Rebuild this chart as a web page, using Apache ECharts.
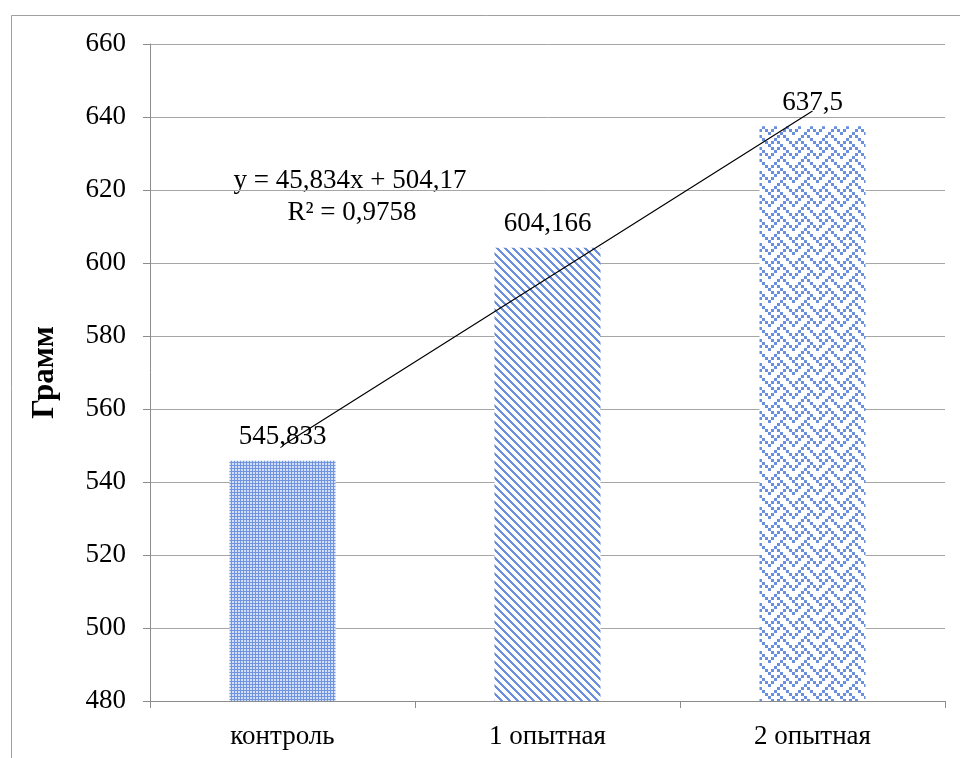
<!DOCTYPE html>
<html>
<head>
<meta charset="utf-8">
<script src="https://cdn.jsdelivr.net/npm/echarts@6/dist/echarts.min.js"></script>
<style>
  html, body { margin: 0; padding: 0; background: #fff; }
  #chart { width: 960px; height: 758px; }
</style>
</head>
<body>
<div id="chart"></div>
<script>
// Groups and mean weight (g)
const categories = ['контроль', '1 опытная', '2 опытная'];
const weights = [545.833, 604.166, 637.5];
// Linear trend evaluated at each group: y = 45,834x + 504,17
const trendValues = [550.00, 595.84, 641.67];
const trendEquation = 'y = 45,834x + 504,17';
const trendR2 = 'R² = 0,9758';
const yTicks = { min: 480, max: 660, step: 20 };

const BLUE = '#6a8fdc';
const FONT = '"Liberation Serif", "Times New Roman", serif';
const FS = 27;

// Build a repeating fill tile from a bitmap of rows (1 = foreground pixel)
function makeTile(rows, scale, fg, bg) {
  const h = rows.length, w = rows[0].length;
  const c = document.createElement('canvas');
  c.width = w * scale; c.height = h * scale;
  const ctx = c.getContext('2d');
  ctx.fillStyle = bg; ctx.fillRect(0, 0, c.width, c.height);
  ctx.fillStyle = fg;
  for (let y = 0; y < h; y++)
    for (let x = 0; x < w; x++)
      if (rows[y][x] === '1') ctx.fillRect(x * scale, y * scale, scale, scale);
  return c;
}

// fine grid of light squares
const dotTile = makeTile(['111', '100', '100'], 1, '#7094de', '#d3dff6');

// wide downward diagonal stripes
const stripeRows = [];
for (let y = 0; y < 8; y++) {
  let r = '';
  for (let x = 0; x < 8; x++) r += (((x - y) % 8 + 8) % 8) < 3 ? '1' : '0';
  stripeRows.push(r);
}
const stripeTile = makeTile(stripeRows, 1, BLUE, '#ffffff');

// weave
const weaveRows = [
  '10001000',
  '01010100',
  '00100010',
  '01000101',
  '10001000',
  '00010100',
  '00100010',
  '01010001'
];
const weaveTile = makeTile(weaveRows, 3, BLUE, '#ffffff');

const tiles = [dotTile, stripeTile, weaveTile];

const chart = echarts.init(document.getElementById('chart'), null, { renderer: 'canvas' });

const fmt = v => String(v).replace('.', ',');

chart.setOption({
  animation: false,
  backgroundColor: '#ffffff',
  grid: { left: 150, right: 15, top: 44, bottom: 57 },
  xAxis: {
    type: 'category',
    data: categories,
    axisLine: { lineStyle: { color: '#8c8c8c', width: 1 } },
    axisTick: { show: true, length: 7, lineStyle: { color: '#8c8c8c' } },
    axisLabel: { color: '#000', fontFamily: FONT, fontSize: FS, margin: 22 }
  },
  yAxis: {
    type: 'value',
    min: yTicks.min,
    max: yTicks.max,
    interval: yTicks.step,
    name: 'Грамм',
    nameLocation: 'middle',
    nameGap: 90,
    nameTextStyle: { color: '#000', fontFamily: FONT, fontSize: 31, fontWeight: 'bold' },
    axisLine: { show: true, lineStyle: { color: '#8c8c8c', width: 1 } },
    axisTick: { show: true, length: 7, lineStyle: { color: '#8c8c8c' } },
    axisLabel: { color: '#000', fontFamily: FONT, fontSize: FS, margin: 24 },
    splitLine: { lineStyle: { color: '#a6a6a6', width: 1 } }
  },
  series: [
    {
      type: 'bar',
      barWidth: '40%',
      data: weights.map((v, i) => ({
        value: v,
        itemStyle: { color: { image: tiles[i], repeat: 'repeat' } }
      })),
      label: {
        show: true,
        position: 'top',
        distance: 10,
        color: '#000',
        fontFamily: FONT,
        fontSize: FS,
        formatter: p => fmt(p.value)
      },
      z: 2
    },
    {
      type: 'line',
      data: trendValues,
      symbol: 'none',
      lineStyle: { color: '#000', width: 1.2 },
      z: 5,
      silent: true
    }
  ],
  graphic: [
    {
      type: 'rect',
      shape: { x: 11.5, y: 15.5, width: 980, height: 800 },
      style: { fill: 'none', stroke: '#a0a0a0', lineWidth: 1 },
      silent: true
    },
    {
      type: 'text',
      x: 350, y: 181,
      style: { text: trendEquation, fill: '#000', font: FS + 'px ' + FONT, align: 'center', verticalAlign: 'middle' }
    },
    {
      type: 'text',
      x: 352, y: 213,
      style: { text: trendR2, fill: '#000', font: FS + 'px ' + FONT, align: 'center', verticalAlign: 'middle' }
    }
  ]
});
</script>
</body>
</html>
